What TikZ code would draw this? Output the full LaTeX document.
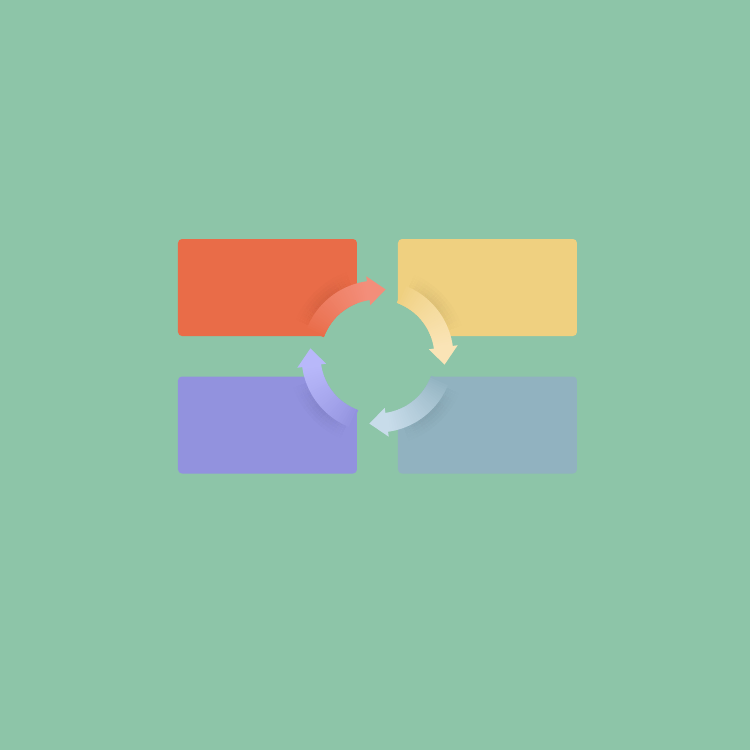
\documentclass[tikz,border=0pt]{standalone}
\usepackage{tikz}
\usetikzlibrary{calc}
\definecolor{bg}{RGB}{141,197,168}
\definecolor{redbox}{RGB}{233,108,72}
\definecolor{yellowbox}{RGB}{239,208,128}
\definecolor{bluebox}{RGB}{145,178,192}
\definecolor{purplebox}{RGB}{146,146,222}
\definecolor{redhead}{RGB}{243,142,122}
\definecolor{yellowhead}{RGB}{250,228,182}
\definecolor{bluehead}{RGB}{200,220,234}
\definecolor{purplehead}{RGB}{184,184,250}

\begin{document}
\begin{tikzpicture}[box/.style={rectangle,rounded corners=0.08cm,minimum width=3.58cm,minimum height=1.94cm,inner sep=0pt}]
        \fill[bg] (-7.55,-7.87) rectangle (7.45,7.13);
        \node[box,fill=redbox] (red) at (-2.2,1.38) {};
        \node[box,fill=yellowbox] (yellow) at (2.2,1.38) {};
        \node[box,fill=bluebox] (blue) at (2.2,-1.37) {};
        \node[box,fill=purplebox] (purple) at (-2.2,-1.37) {};
        % soft shadow on the outer side of each arrow
        \foreach \c/\s in {redbox/160,yellowbox/70,bluebox/-20,purplebox/250}{
          \foreach \i in {0,...,24}{
            \pgfmathsetmacro\op{0.035*sin(180*\i/24)}
            \foreach \k in {1,...,4}{
              \draw[\c!55!black,opacity=\op,line width=0.38cm+0.07cm*\k]
                (\s-2-2*\i:1.33+0.035*\k) arc[start angle=\s-2-2*\i,end angle=\s-4-2*\i,radius=1.33+0.035*\k];
            }
          }
        }
        \fill[bg] (0,0) circle (1.14);
        % the four arrows, fading from the box colour
        \foreach \c/\h/\s in {redbox/redhead/160,yellowbox/yellowhead/70,bluebox/bluehead/-20,purplebox/purplehead/250}{
          \foreach \i in {0,...,30}{
            \pgfmathsetmacro\pct{100*(\i/30)^0.8}
            \draw[line width=0.38cm,\h!\pct!\c] (\s-2*\i:1.33) arc[start angle=\s-2*\i,end angle=\s-2*\i-2.6,radius=1.33];
          }
          \fill[\h] (\s-62:1.04) -- (\s-62:1.62) -- (\s-77:1.35) -- cycle;
        }
\end{tikzpicture}
\end{document}
